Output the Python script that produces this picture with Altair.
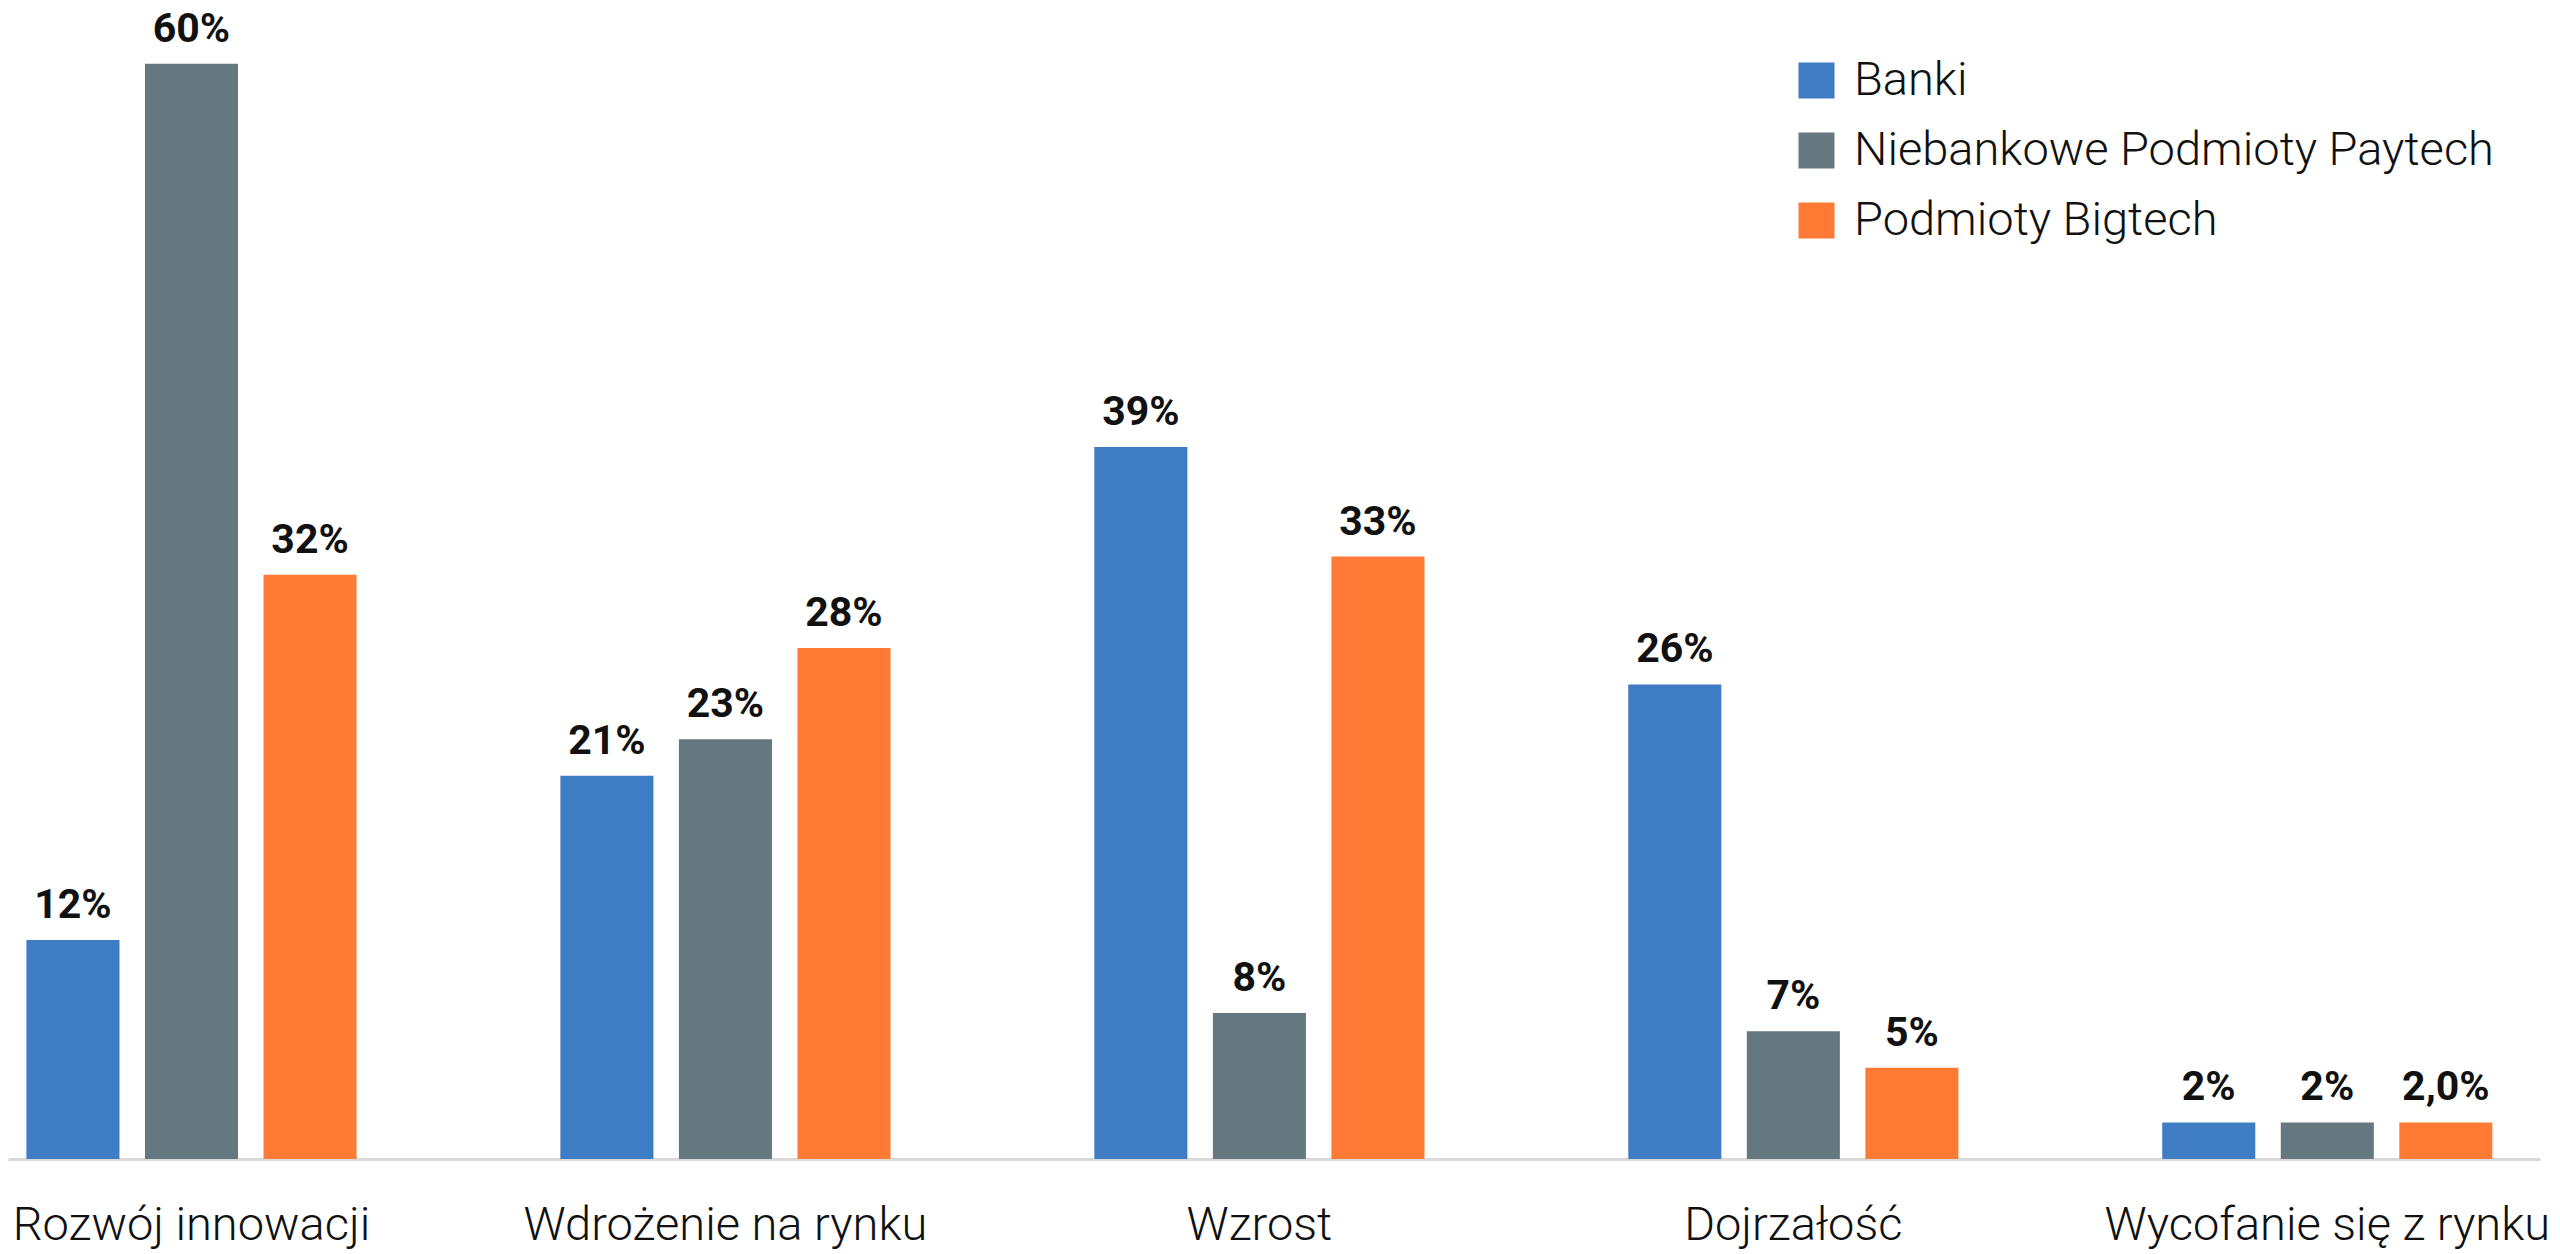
""" Grouped bar chart: stages of market development by type of entity """
import altair as alt
import pandas as pd

# categories on the x axis
stages = ["Rozwój innowacji", "Wdrożenie na rynku", "Wzrost", "Dojrzałość",
          "Wycofanie się z rynku"]

# series names
series = ["Banki", "Niebankowe Podmioty Paytech", "Podmioty Bigtech"]
colors = ["#3E7CC4", "#66787F", "#FF7A35"]

# values in percent, one list per series
banki = [12, 21, 39, 26, 2]
paytech = [60, 23, 8, 7, 2]
bigtech = [32, 28, 33, 5, 2]

# printed value labels
banki_labels = ["12%", "21%", "39%", "26%", "2%"]
paytech_labels = ["60%", "23%", "8%", "7%", "2%"]
bigtech_labels = ["32%", "28%", "33%", "5%", "2,0%"]

rows = []
for name, values, labels in zip(series,
                                [banki, paytech, bigtech],
                                [banki_labels, paytech_labels, bigtech_labels]):
    for stage, value, label in zip(stages, values, labels):
        rows.append({"stage": stage, "series": name, "value": value, "label": label})
data = pd.DataFrame(rows)

x_enc = alt.X(
    "stage:N",
    sort=stages,
    title=None,
    scale=alt.Scale(paddingInner=0.334, paddingOuter=0.038, align=0.14),
    axis=alt.Axis(
        labelAngle=0,
        ticks=False,
        domainColor="#d9d9d9",
        domainWidth=3,
        labelFont="Roboto",
        labelFontWeight=300,
        labelFontSize=47,
        labelColor="#111111",
        labelBaseline="alphabetic",
        labelPadding=80,
        labelOverlap=False,
        labelBound=False,
        labelFlush=False,
        labelLimit=800,
    ),
)
offset_enc = alt.XOffset(
    "series:N", sort=series,
    scale=alt.Scale(paddingInner=0.215, paddingOuter=0.1075),
)
y_enc = alt.Y("value:Q", scale=alt.Scale(domain=[0, 63], nice=False), axis=None)

bars = (alt
    .Chart(data)
    .mark_bar()
    .encode(
        x=x_enc,
        xOffset=offset_enc,
        y=y_enc,
        color=alt.Color(
            "series:N",
            sort=series,
            scale=alt.Scale(domain=series, range=colors),
            legend=alt.Legend(
                title=None,
                orient="none",
                legendX=1785,
                legendY=48,
                padding=0,
                symbolType="square",
                symbolSize=1296,
                symbolStrokeWidth=0,
                symbolOpacity=1,
                labelFont="Roboto",
                labelFontWeight=300,
                labelFontSize=47,
                labelColor="#111111",
                labelOffset=14,
                rowPadding=22,
                labelLimit=800,
            ),
        ),
    )
)

texts = (alt
    .Chart(data)
    .mark_text(font="Roboto", fontWeight="bold", fontSize=41, color="#111111",
               baseline="alphabetic", dy=-22)
    .encode(x=x_enc, xOffset=offset_enc, y=y_enc, text="label:N")
)

chart = (alt
    .layer(bars, texts)
    .properties(width=2532, height=1150,
                padding={"left": 0, "top": 0, "right": 0, "bottom": 4})
    .configure_view(stroke=None)
)

chart.save("out.html", embed_options={"renderer": "svg", "actions": False})
